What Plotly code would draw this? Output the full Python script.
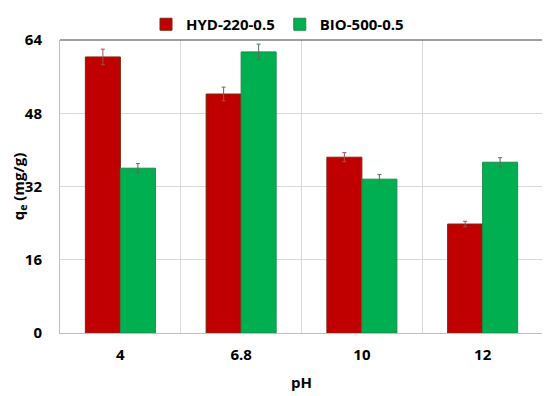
import plotly.graph_objects as go

categories = ["4", "6.8", "10", "12"]
hyd_values = [60.3, 52.2, 38.4, 23.8]
hyd_errors = [1.7, 1.5, 1.0, 0.6]
bio_values = [36.0, 61.4, 33.6, 37.3]
bio_errors = [1.0, 1.7, 1.0, 1.0]

font_family = "Open Sans, Liberation Sans, sans-serif"

fig = go.Figure()
fig.add_trace(go.Bar(
    x=categories, y=hyd_values, name="HYD-220-0.5",
    marker=dict(color="#C00000", line=dict(color="#7A2A10", width=1)),
    error_y=dict(type="data", array=hyd_errors, color="#A05050", thickness=1, width=2),
))
fig.add_trace(go.Bar(
    x=categories, y=bio_values, name="BIO-500-0.5",
    marker=dict(color="#00B050", line=dict(color="#1E8A4A", width=1)),
    error_y=dict(type="data", array=bio_errors, color="#507060", thickness=1, width=2),
))

# the page body adds an 8px offset; margins compensate for it
fig.update_layout(
    width=550, height=396,
    margin=dict(l=52, r=15, t=32, b=71, autoexpand=False),
    paper_bgcolor="white", plot_bgcolor="white",
    barmode="group", bargap=0.42, bargroupgap=0,
    font=dict(family=font_family, size=15, color="black"),
    legend=dict(orientation="h", x=0.49, xanchor="center", xref="container",
                y=1.0, yanchor="top", yref="container",
                bgcolor="rgba(0,0,0,0)",
                font=dict(size=15, family=font_family, weight="bold"),
                itemwidth=30, traceorder="normal"),
    showlegend=True,
)
fig.update_xaxes(
    type="category", tickson="boundaries", showgrid=True, gridcolor="#D9D9D9", gridwidth=1,
    ticks="", showline=True, linecolor="#BFBFBF", linewidth=1, mirror=False,
    automargin=False,
    tickfont=dict(size=15, weight="bold"), ticklabelstandoff=8,
    title=dict(text="pH", font=dict(size=15, weight="bold"), standoff=14),
)
fig.update_yaxes(
    range=[0, 64], dtick=16, showgrid=True, gridcolor="#D9D9D9", gridwidth=1,
    zeroline=False, showline=True, linecolor="#BFBFBF", linewidth=1, ticks="",
    automargin=False,
    tickfont=dict(size=15, weight="bold"), ticklabelstandoff=14,
    title=dict(text="q<sub>e</sub> (mg/g)", font=dict(size=15, weight="bold"), standoff=6),
)
# top and right border lines of the plot area
fig.add_shape(type="line", xref="paper", yref="paper", x0=0, x1=1, y0=1, y1=1,
              line=dict(color="#404040", width=1))
fig.add_shape(type="line", xref="paper", yref="paper", x0=1, x1=1, y0=0, y1=1,
              line=dict(color="#404040", width=1))

fig.write_html("out.html")
